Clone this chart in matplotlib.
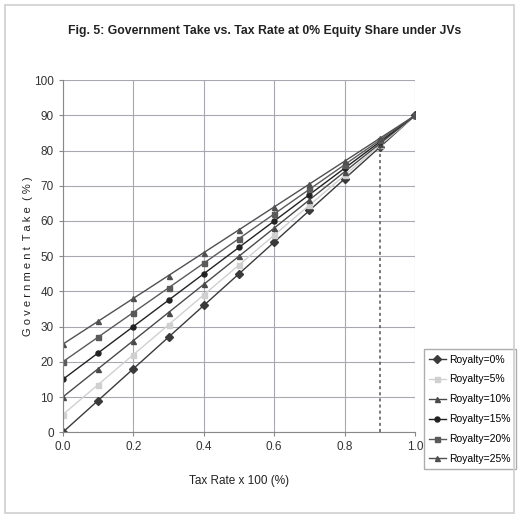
import matplotlib
matplotlib.use("Agg")
from matplotlib import pyplot as plt
from matplotlib.patches import Rectangle

plt.rcParams['font.family'] = ['Liberation Sans', 'DejaVu Sans']

tax_rate = [0.0, 0.1, 0.2, 0.3, 0.4, 0.5, 0.6, 0.7, 0.8, 0.9, 1.0]
royalty_0 = [0, 9, 18, 27, 36, 45, 54, 63, 72, 81, 90]
royalty_5 = [5, 13.5, 22, 30.5, 39, 47.5, 56, 64.5, 73, 81.5, 90]
royalty_10 = [10, 18, 26, 34, 42, 50, 58, 66, 74, 82, 90]
royalty_15 = [15, 22.5, 30, 37.5, 45, 52.5, 60, 67.5, 75, 82.5, 90]
royalty_20 = [20, 27, 34, 41, 48, 55, 62, 69, 76, 83, 90]
royalty_25 = [25, 31.5, 38, 44.5, 51, 57.5, 64, 70.5, 77, 83.5, 90]
labels = ['Royalty=0%', 'Royalty=5%', 'Royalty=10%', 'Royalty=15%', 'Royalty=20%', 'Royalty=25%']

series = [royalty_0, royalty_5, royalty_10, royalty_15, royalty_20, royalty_25]
markers = ['D', 's', '^', 'o', 's', '^']
colors = ['#3a3a3a', '#d0d0d0', '#4a4a4a', '#222222', '#5a5a5a', '#505050']

fig = plt.figure(figsize=(5.19, 5.17), dpi=100)
ax = fig.add_axes([0.121, 0.164, 0.679, 0.681])

# light frame round the whole chart
fig.patches.append(Rectangle((0.01, 0.008), 0.98, 0.982, transform=fig.transFigure,
                             fill=False, edgecolor='#cfcfcf', linewidth=1.2))

for ys, m, c, lab in zip(series, markers, colors, labels):
    ax.plot(tax_rate, ys, color=c, marker=m, markersize=3.6, linewidth=1.0, label=lab)

# dashed marker at tax rate 0.9
ax.plot([0.9, 0.9], [0, royalty_0[9] + 1.5], color='#555555', linestyle=(0, (2, 2)), linewidth=1.1)

ax.set_xlim(0, 1.0)
ax.set_ylim(0, 100)
ax.set_xticks([0.0, 0.2, 0.4, 0.6, 0.8, 1.0])
ax.set_xticklabels(['0.0', '0.2', '0.4', '0.6', '0.8', '1.0'])
ax.set_yticks(range(0, 101, 10))
ax.grid(True, color='#a8a8b0', linewidth=0.8)
ax.set_axisbelow(True)
for side in ['top', 'right']:
    ax.spines[side].set_visible(False)
for side in ['left', 'bottom']:
    ax.spines[side].set_color('#888888')
ax.tick_params(axis='both', labelsize=8.5, colors='#333333', length=3, color='#888888')

ax.set_xlabel('Tax Rate x 100 (%)', fontsize=8.5, color='#222222', labelpad=16)
ax.set_ylabel('G o v e r n m e n t  T a k e  ( % )', fontsize=8, color='#222222')
ax.yaxis.set_label_coords(-0.085, 0.5)
fig.text(0.51, 0.94, 'Fig. 5: Government Take vs. Tax Rate at 0% Equity Share under JVs',
         ha='center', va='center', fontsize=8.8, fontweight='bold', color='#222222')

ax.legend(loc='center left', bbox_to_anchor=(1.01, 0.065), fontsize=7.5, frameon=True,
          fancybox=False, edgecolor='#999999', handlelength=1.6, labelspacing=0.95,
          borderpad=0.5, handletextpad=0.3)

fig.savefig('out.png', dpi=100)
